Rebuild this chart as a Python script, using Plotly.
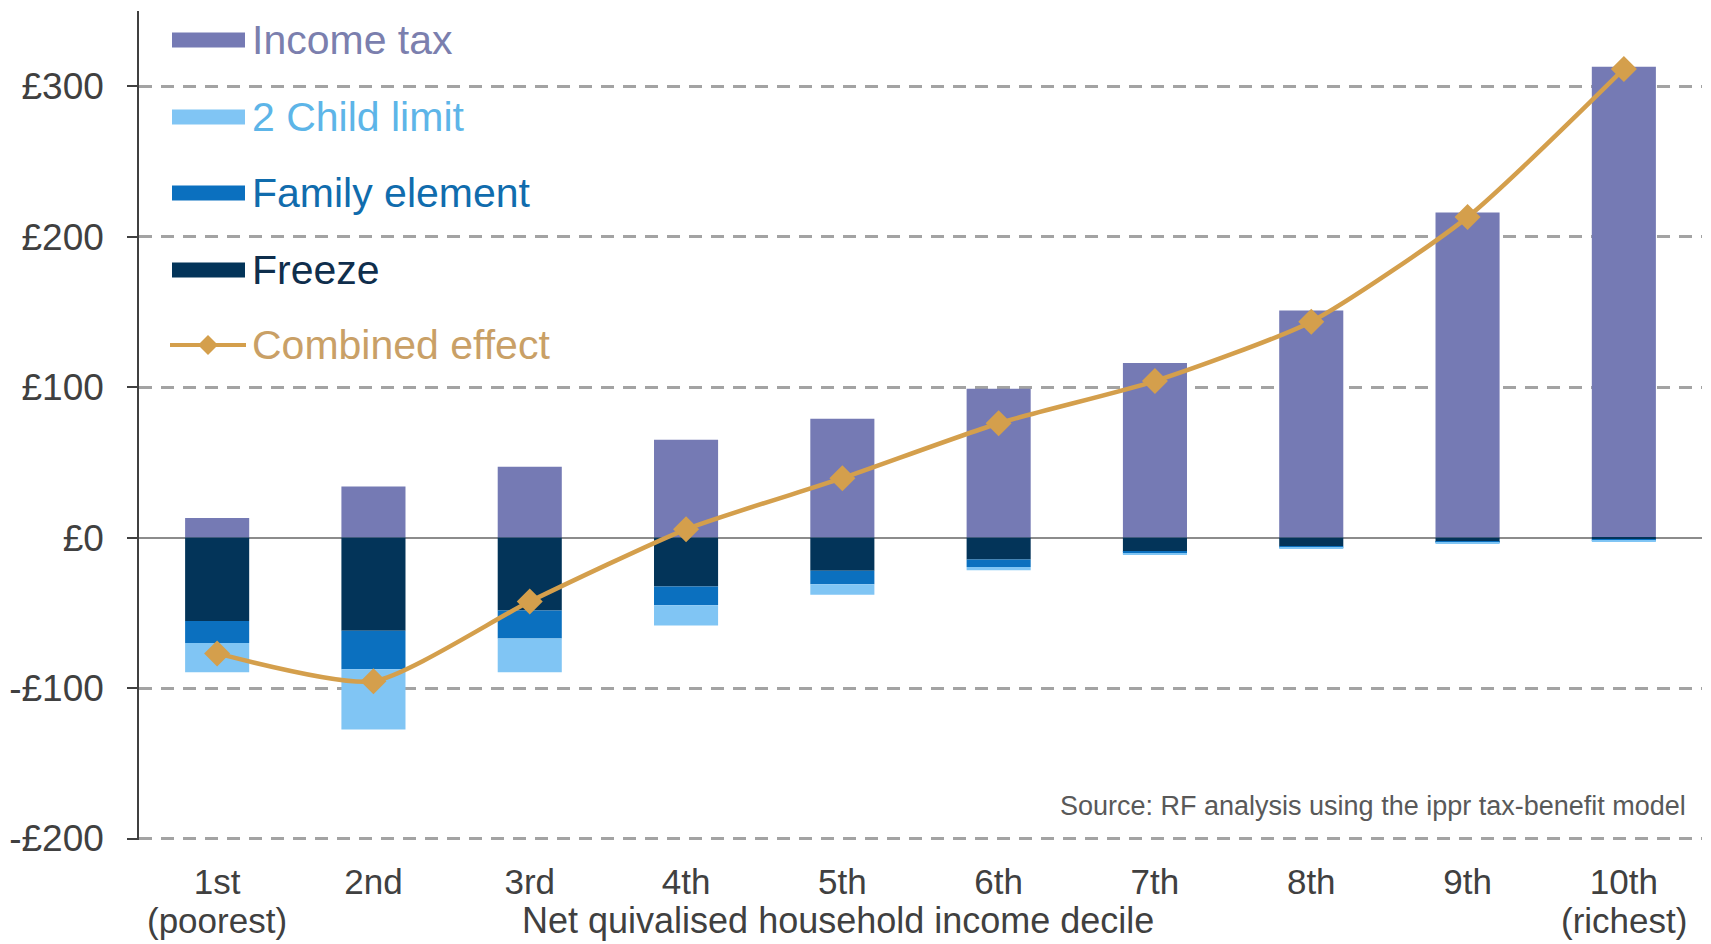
import plotly.graph_objects as go

categories = ["1st", "2nd", "3rd", "4th", "5th", "6th", "7th", "8th", "9th", "10th"]
end_labels = {"1st": "(poorest)", "10th": "(richest)"}
income_tax = [13, 34, 47, 65, 79, 99, 116, 151, 216, 313]
freeze = [-55.5, -62, -48.5, -32.5, -22, -14.5, -9.5, -5.8, -2.9, -1.3]
family_element = [-14.5, -25.5, -18.5, -12.5, -9, -5, -1.2, -0.8, -0.6, -0.7]
child_limit = [-19.5, -40, -22.5, -13.5, -7, -2.2, -0.4, -0.4, -0.3, -0.3]
combined = [-77, -95.5, -42.5, 5.5, 39.5, 76, 104, 143.5, 213, 311.5]
y_ticks = [-200, -100, 0, 100, 200, 300]
y_ticktext = ["-\u00a3200", "-\u00a3100", "\u00a30", "\u00a3100", "\u00a3200", "\u00a3300"]
source_text = "Source: RF analysis using the ippr tax-benefit model"
x_title = "Net quivalised household income decile"

FONT = "Liberation Sans, Arial, sans-serif"
C_INC = "#757ab4"
C_CHILD = "#80c5f4"
C_FAM = "#0b70bf"
C_FRZ = "#033459"
C_COMB = "#d49f4c"

W, H = 1711, 944
L, R, T, B = 139, 9, 11, 104
PX0, PX1 = L, W - R
PY0, PY1 = T, H - B


def px(xp):
    return (xp - PX0) / (PX1 - PX0)


def py(yp):
    return (PY1 - yp) / (PY1 - PY0)


fig = go.Figure()
fig.add_trace(go.Bar(x=categories, y=income_tax, name="Income tax", marker_color=C_INC, marker_line_width=0))
fig.add_trace(go.Bar(x=categories, y=freeze, name="Freeze", marker_color=C_FRZ, marker_line_width=0))
fig.add_trace(go.Bar(x=categories, y=family_element, name="Family element", marker_color=C_FAM, marker_line_width=0))
fig.add_trace(go.Bar(x=categories, y=child_limit, name="2 Child limit", marker_color=C_CHILD, marker_line_width=0))
fig.add_trace(go.Scatter(x=categories, y=combined, name="Combined effect", mode="lines+markers",
                         line=dict(color=C_COMB, width=4.5, shape="spline", smoothing=0.6),
                         marker=dict(symbol="diamond", size=20, color=C_COMB)))

fig.update_layout(
    width=W, height=H, autosize=False,
    margin=dict(l=L, r=R, t=T, b=B, pad=0),
    paper_bgcolor="white", plot_bgcolor="white",
    barmode="relative", bargap=0.59,
    showlegend=False,
    font=dict(family=FONT, color="#404040"),
)
fig.update_xaxes(
    range=[-0.5, 9.5], showgrid=False, showline=False, ticks="",
    tickfont=dict(size=35, color="#404040", family=FONT),
    ticklabelstandoff=18, automargin=False,
)
fig.update_yaxes(
    range=[-201, 350], tickvals=y_ticks, ticktext=y_ticktext,
    tickfont=dict(size=37, color="#404040", family=FONT),
    showgrid=True, gridcolor="#a3a3a3", gridwidth=3, griddash="13px,9px",
    zeroline=True, zerolinecolor="#8c8c8c", zerolinewidth=2,
    showline=True, linecolor="#404040", linewidth=1.5,
    ticks="outside", ticklen=10, tickcolor="#404040", tickwidth=1.5,
    ticklabelstandoff=16, automargin=False,
)

# custom legend
legend_items = [
    ("Income tax", C_INC, "#7b7fae", 40, "bar"),
    ("2 Child limit", C_CHILD, "#5db5e8", 117, "bar"),
    ("Family element", C_FAM, "#106cad", 193, "bar"),
    ("Freeze", C_FRZ, "#0f2e4c", 270, "bar"),
    ("Combined effect", C_COMB, "#c9a066", 345, "line"),
]
shapes = []
annotations = []
for name, col, tcol, ypix, kind in legend_items:
    if kind == "bar":
        shapes.append(dict(type="rect", xref="paper", yref="paper",
                           x0=px(172), x1=px(245), y0=py(ypix + 7.5), y1=py(ypix - 7.5),
                           fillcolor=col, line_width=0, layer="above"))
    else:
        shapes.append(dict(type="line", xref="paper", yref="paper",
                           x0=px(170), x1=px(246), y0=py(ypix), y1=py(ypix),
                           line=dict(color=col, width=4), layer="above"))
        shapes.append(dict(type="path", xref="paper", yref="paper",
                           path="M {a},{b} L {c},{d} L {e},{f} L {g},{h} Z".format(
                               a=px(208 - 10), b=py(ypix), c=px(208), d=py(ypix - 10),
                               e=px(208 + 10), f=py(ypix), g=px(208), h=py(ypix + 10)),
                           fillcolor=col, line_width=0, layer="above"))
    annotations.append(dict(text=name, xref="paper", yref="paper", x=px(250), y=py(ypix),
                            xanchor="left", yanchor="middle", showarrow=False,
                            font=dict(size=41, color=tcol, family=FONT)))

for cat, lab in end_labels.items():
    annotations.append(dict(text=lab, xref="x", yref="paper", x=cat, y=py(921),
                            xanchor="center", yanchor="middle", showarrow=False,
                            font=dict(size=35, color="#404040", family=FONT)))

annotations.append(dict(text=source_text, xref="paper", yref="paper", x=px(1688), y=py(806),
                        xanchor="right", yanchor="middle", showarrow=False,
                        font=dict(size=27, color="#595959", family=FONT)))
annotations.append(dict(text=x_title, xref="paper", yref="paper", x=px(838), y=py(921),
                        xanchor="center", yanchor="middle", showarrow=False,
                        font=dict(size=36, color="#404040", family=FONT)))

fig.update_layout(shapes=shapes, annotations=annotations)
fig.write_html("out.html")
